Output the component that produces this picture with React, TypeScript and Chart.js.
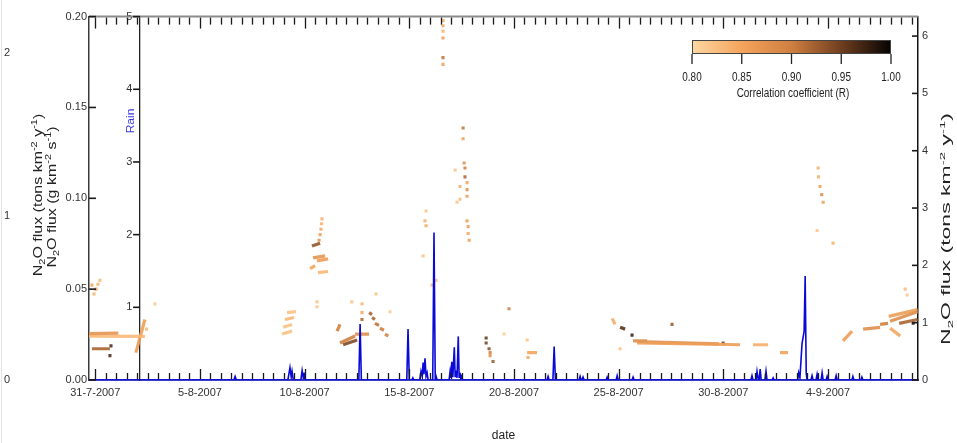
import React, { useEffect, useRef } from 'react';
import { Chart, registerables } from 'chart.js';
Chart.register(...registerables);

// ---------- axis definitions ----------
const DAY_MIN = -0.3;
const DAY_MAX = 39.3;
const RAIN_AXIS_DAY = 2.14;
const dateTickDays = [0, 5, 10, 15, 20, 25, 30, 35];
const dateTickLabels = ['31-7-2007', '5-8-2007', '10-8-2007', '15-8-2007', '20-8-2007', '25-8-2007', '30-8-2007', '4-9-2007'];
const fluxTicks = [0, 0.05, 0.1, 0.15, 0.2];
const rainTicks = [1, 2, 3, 4, 5];
const tonsRightTicks = [0, 1, 2, 3, 4, 5, 6];
const tonsLeftTicks = [0, 1, 2];
const corrTicks = [0.8, 0.85, 0.9, 0.95, 1.0];
const corrColors = ['#fed7a2', '#f4a45c', '#cf7f40', '#6f3e1f', '#050302'];

// ---------- rain (mm), explicit series ----------
const rainDay = [
  -0.3, 6.62, 6.68, 6.74,
  9.2, 9.3, 9.36, 9.4, 9.46,
  9.82, 9.88, 9.94, 9.97, 10.03,
  12.59, 12.65, 12.71,
  14.88, 14.94, 15.0,
  15.12, 15.17, 15.22,
  15.5, 15.56, 15.62, 15.66, 15.7, 15.75, 15.8, 15.85, 15.9,
  16.12, 16.18, 16.24, 16.28, 16.33,
  16.9, 16.95, 16.99, 17.03, 17.08, 17.15, 17.19, 17.23, 17.28, 17.34, 17.38, 17.42, 17.46, 17.5, 17.55,
  21.58, 21.63, 21.68,
  21.86, 21.92, 21.98,
  23.11, 23.16, 23.21, 23.25, 23.3, 23.35,
  24.4, 24.45, 24.5,
  24.88, 24.93, 24.98,
  25.64, 25.69, 25.74,
  31.32, 31.37, 31.42, 31.56, 31.61, 31.66, 31.71, 31.76, 31.81,
  31.99, 32.04, 32.09,
  32.33, 32.38, 32.43,
  33.55, 33.6, 33.66, 33.76, 33.86, 33.91, 33.96, 34.0,
  34.19, 34.24, 34.29, 34.43, 34.48, 34.53, 34.67, 34.72, 34.77, 34.91, 34.96, 35.01,
  35.34, 35.39, 35.44,
  36.14, 36.19, 36.24,
  36.57, 36.62, 36.67,
  39.3,
];
const rainMm = [
  0, 0, 0.05, 0,
  0, 0.17, 0.04, 0.12, 0,
  0, 0.13, 0.02, 0.1, 0,
  0, 0.77, 0,
  0, 0.7, 0,
  0, 0.03, 0,
  0, 0.12, 0.05, 0.24, 0.08, 0.3, 0.05, 0.1, 0,
  0, 2.03, 0, 0.05, 0,
  0, 0.12, 0.03, 0.25, 0.04, 0.45, 0.05, 0.13, 0.03, 0.6, 0.04, 0.1, 0.02, 0.05, 0,
  0, 0.05, 0,
  0, 0.46, 0,
  0, 0.05, 0, 0, 0.04, 0,
  0, 0.04, 0,
  0, 0.06, 0,
  0, 0.04, 0,
  0, 0.06, 0, 0, 0.12, 0.02, 0, 0.15, 0,
  0, 0.12, 0,
  0, 0.03, 0,
  0, 0.1, 0.03, 0.5, 0.67, 1.43, 0.1, 0,
  0, 0.06, 0, 0, 0.08, 0, 0, 0.1, 0, 0, 0.05, 0,
  0, 0.06, 0,
  0, 0.05, 0,
  0, 0.04, 0,
  0,
];

// ---------- flux streaks (day, g km-2 s-1, correlation R) ----------
const streakDay0 = [-0.3, -0.3, -0.16, 1.94, 8.92, 8.97, 9.06, 9.16, 10.35, 10.4, 10.59, 10.26, 10.64, 11.55, 11.69, 11.84, 12.41, 13.08, 13.22, 13.36, 13.6, 13.84, 20.63, 24.69, 25.07, 25.69, 25.88, 26.3, 31.42, 32.71, 35.72, 36.68, 37.49, 37.97, 37.9, 38.4, 37.97];
const streakFlux0 = [0.0255, 0.0242, 0.0172, 0.0151, 0.0253, 0.029, 0.0333, 0.0371, 0.0737, 0.0672, 0.0656, 0.0613, 0.0591, 0.0269, 0.0204, 0.0194, 0.0253, 0.0371, 0.0344, 0.0312, 0.0285, 0.0253, 0.0151, 0.0339, 0.029, 0.0215, 0.0204, 0.021, 0.0194, 0.0151, 0.0215, 0.028, 0.0306, 0.0323, 0.035, 0.0312, 0.0285];
const streakDay1 = [1.1, 2.37, 0.7, 2.37, 9.4, 9.4, 9.49, 9.59, 10.74, 10.98, 11.12, 10.5, 11.12, 11.69, 12.41, 12.51, 13.08, 13.22, 13.36, 13.55, 13.79, 14.0, 21.1, 24.83, 25.31, 26.36, 30.8, 29.8, 32.14, 33.09, 36.15, 37.49, 37.87, 39.28, 39.28, 39.28, 38.45];
const streakFlux1 = [0.0258, 0.024, 0.0172, 0.0333, 0.0269, 0.0306, 0.0344, 0.0376, 0.0753, 0.0683, 0.0667, 0.0629, 0.0597, 0.0306, 0.0242, 0.022, 0.0253, 0.036, 0.0333, 0.0301, 0.0274, 0.0242, 0.0151, 0.0306, 0.028, 0.0215, 0.0194, 0.0199, 0.0194, 0.0151, 0.0269, 0.029, 0.0312, 0.0376, 0.0387, 0.0333, 0.0242];
const streakR = [0.87, 0.83, 0.92, 0.86, 0.82, 0.82, 0.83, 0.82, 0.93, 0.87, 0.86, 0.85, 0.83, 0.9, 0.9, 0.94, 0.88, 0.92, 0.92, 0.91, 0.9, 0.89, 0.85, 0.84, 0.96, 0.88, 0.86, 0.88, 0.84, 0.85, 0.86, 0.88, 0.9, 0.88, 0.86, 0.92, 0.85];

// ---------- isolated flux points ----------
const dotDay = [-0.16, 0.03, 0.13, -0.06, 0.22, 0.75, 0.7, 2.85, 2.45,
  10.83, 10.81, 10.78, 10.74, 10.69, 10.59, 10.59,
  12.74, 12.74, 12.74, 13.41, 14.08, 12.25,
  16.61, 16.61, 16.61, 16.61, 16.61, 16.61, 17.57, 17.57,
  17.62, 17.66, 17.19, 17.66, 17.76, 17.42, 17.76, 17.76, 17.42, 17.28, 15.8, 15.75, 15.8, 17.76, 17.81, 17.81, 17.86, 15.66, 16.09, 16.28,
  18.67, 18.67, 18.81, 18.86, 18.86, 19.0, 19.76, 19.53, 20.63, 20.67,
  25.64, 29.99, 27.55, 25.07,
  34.53, 34.55, 34.62, 34.7, 34.77, 34.48, 35.24, 38.69, 38.78, 39.07];
const dotFlux = [0.0522, 0.05, 0.0527, 0.0473, 0.0548, 0.0188, 0.0134, 0.0419, 0.028,
  0.0887, 0.086, 0.083, 0.08, 0.0769, 0.043, 0.0403,
  0.0419, 0.0371, 0.0333, 0.0473, 0.0376, 0.043,
  0.1978, 0.195, 0.1919, 0.1882, 0.1774, 0.1737, 0.1387, 0.1328,
  0.1194, 0.1167, 0.1156, 0.1118, 0.1086, 0.1065, 0.1048, 0.1011, 0.0995, 0.0978, 0.093, 0.0876, 0.0849, 0.0876, 0.0844, 0.0806, 0.0769, 0.0683, 0.0522, 0.0548,
  0.0231, 0.0204, 0.0172, 0.0151, 0.0134, 0.0102, 0.0392, 0.0253, 0.022, 0.0124,
  0.0247, 0.0204, 0.0306, 0.0172,
  0.1167, 0.1118, 0.1065, 0.102, 0.0978, 0.0823, 0.0753, 0.05, 0.0468, 0.0312];
const dotR = [0.85, 0.86, 0.84, 0.84, 0.83, 0.97, 0.97, 0.81, 0.83,
  0.84, 0.84, 0.85, 0.86, 0.88, 0.82, 0.82,
  0.83, 0.85, 0.92, 0.82, 0.81, 0.82,
  0.84, 0.85, 0.84, 0.86, 0.91, 0.86, 0.91, 0.86,
  0.88, 0.9, 0.82, 0.92, 0.85, 0.84, 0.88, 0.86, 0.83, 0.82, 0.82, 0.84, 0.85, 0.86, 0.86, 0.85, 0.86, 0.82, 0.83, 0.82,
  0.96, 0.95, 0.94, 0.9, 0.88, 0.93, 0.9, 0.81, 0.82, 0.85,
  0.98, 0.95, 0.93, 0.82,
  0.84, 0.84, 0.86, 0.88, 0.86, 0.82, 0.84, 0.83, 0.82, 0.99];

// ---------- helpers ----------
const SANS = "'Liberation Sans',Arial,sans-serif";

function hexRgb(h: string) {
  const n = parseInt(h.slice(1), 16);
  return [(n >> 16) & 255, (n >> 8) & 255, n & 255];
}
function corrColor(R: number, alpha = 0.9) {
  const t = Math.max(0, Math.min(1, (R - corrTicks[0]) / (corrTicks[corrTicks.length - 1] - corrTicks[0])));
  const seg = t * (corrColors.length - 1);
  const i = Math.min(corrColors.length - 2, Math.floor(seg));
  const f = seg - i;
  const a = hexRgb(corrColors[i]);
  const b = hexRgb(corrColors[i + 1]);
  const c = a.map((v, k) => Math.round(v + (b[k] - v) * f));
  return `rgba(${c[0]},${c[1]},${c[2]},${alpha})`;
}

type Part = { t: string; sub?: boolean; sup?: boolean };
function drawRich(ctx: CanvasRenderingContext2D, parts: Part[], cx: number, cy: number, size: number, color: string, rotate: boolean, squeeze: number, family = SANS) {
  ctx.save();
  ctx.translate(cx, cy);
  if (rotate) ctx.rotate(-Math.PI / 2);
  if (rotate) ctx.scale(1, squeeze); else ctx.scale(squeeze, 1);
  const small = Math.round(size * 0.66);
  let total = 0;
  const widths: number[] = [];
  parts.forEach((p) => {
    ctx.font = `${p.sub || p.sup ? small : size}px ${family}`;
    const w = ctx.measureText(p.t).width;
    widths.push(w);
    total += w;
  });
  let x = -total / 2;
  ctx.textBaseline = 'middle';
  ctx.textAlign = 'left';
  ctx.fillStyle = color;
  parts.forEach((p, i) => {
    ctx.font = `${p.sub || p.sup ? small : size}px ${family}`;
    const dy = p.sub ? size * 0.3 : p.sup ? -size * 0.38 : 0;
    ctx.fillText(p.t, x, dy);
    x += widths[i];
  });
  ctx.restore();
}

const titleTons: Part[] = [{ t: 'N' }, { t: '2', sub: true }, { t: 'O flux (tons km' }, { t: '-2', sup: true }, { t: ' y' }, { t: '-1', sup: true }, { t: ')' }];
const titleG: Part[] = [{ t: 'N' }, { t: '2', sub: true }, { t: 'O flux (g km' }, { t: '-2', sup: true }, { t: ' s' }, { t: '-1', sup: true }, { t: ')' }];

const framePlugin = {
  id: 'framePlugin',
  afterDraw(chart: any) {
    const { ctx, chartArea: ca, scales } = chart;
    const x = scales.x;
    const yF = scales.yFlux;
    const yR = scales.yRight;
    const yRain = scales.yRain;
    ctx.save();
    const line = (x1: number, y1: number, x2: number, y2: number) => {
      ctx.beginPath();
      ctx.moveTo(x1, y1);
      ctx.lineTo(x2, y2);
      ctx.stroke();
    };
    // faint outer line at far left
    ctx.strokeStyle = '#e4e4e4';
    ctx.lineWidth = 1;
    line(1.5, 0, 1.5, 443);
    // top border
    ctx.strokeStyle = '#8c8c8c';
    ctx.lineWidth = 2;
    line(ca.left, ca.top, ca.right, ca.top);
    // time ticks (inward, top & bottom)
    ctx.strokeStyle = '#1a1a1a';
    ctx.lineWidth = 1.3;
    for (let k = Math.ceil(DAY_MIN * 2); k <= Math.floor(DAY_MAX * 2); k++) {
      const d = k / 2;
      const px = Math.round(x.getPixelForValue(d)) + 0.5;
      const major = d % 5 === 0;
      line(px, ca.bottom - 1, px, ca.bottom - (major ? 11 : 7));
      line(px, ca.top + 1, px, ca.top + (major ? 12 : 8));
    }
    // flux ticks (inward)
    ctx.lineWidth = 1.6;
    fluxTicks.forEach((v) => {
      const py = yF.getPixelForValue(v);
      line(ca.left, py, ca.left + 7, py);
    });
    // right axis ticks (inward)
    tonsRightTicks.forEach((v) => {
      const py = yR.getPixelForValue(v);
      line(ca.right - 6, py, ca.right, py);
    });
    // rain axis ticks (outward, left)
    const rx = x.getPixelForValue(RAIN_AXIS_DAY);
    rainTicks.forEach((v) => {
      const py = yRain.getPixelForValue(v);
      line(rx - 7, py, rx, py);
    });

    // colorbar
    const cbx0 = 692, cbx1 = 891, cby0 = 40, cby1 = 54;
    const g = ctx.createLinearGradient(cbx0, 0, cbx1, 0);
    corrColors.forEach((c, i) => g.addColorStop(i / (corrColors.length - 1), c));
    ctx.fillStyle = g;
    ctx.fillRect(cbx0, cby0, cbx1 - cbx0, cby1 - cby0);
    ctx.strokeStyle = '#444';
    ctx.lineWidth = 1;
    ctx.strokeRect(cbx0 + 0.5, cby0 + 0.5, cbx1 - cbx0 - 1, cby1 - cby0 - 1);
    ctx.lineWidth = 1.3;
    ctx.strokeStyle = '#222';
    corrTicks.forEach((v, i) => {
      const px = cbx0 + ((cbx1 - cbx0) * i) / (corrTicks.length - 1);
      line(px, cby1, px, cby1 + 10);
      drawRich(ctx, [{ t: v.toFixed(2) }], px, 77.5, 12, '#222', false, 0.83);
    });
    drawRich(ctx, [{ t: 'Correlation coefficient (R)' }], 793, 94, 12, '#222', false, 0.83);

    // axis titles
    drawRich(ctx, titleTons, 39, 195, 16, '#222', true, 0.75);
    drawRich(ctx, titleG, 53, 197, 16, '#222', true, 0.75);
    drawRich(ctx, titleTons, 947, 229, 23, '#222', true, 0.52);
    drawRich(ctx, [{ t: 'Rain' }], 131, 121, 12, '#3535e0', true, 0.95);
    ctx.restore();
  },
};

export default function App() {
  const ref = useRef<HTMLCanvasElement>(null);
  useEffect(() => {
    if (!ref.current) return;
    const rainData = rainDay.map((d, i) => ({ x: d, y: rainMm[i] }));
    const streakSets = streakDay0.map((d0, i) => ({
      type: 'scatter' as const,
      data: [{ x: d0, y: streakFlux0[i] }, { x: streakDay1[i], y: streakFlux1[i] }],
      yAxisID: 'yFlux',
      showLine: true,
      borderColor: corrColor(streakR[i], 0.9),
      borderWidth: 3.2,
      pointRadius: 0,
      order: 2,
    }));
    const dots = {
      type: 'scatter' as const,
      data: dotDay.map((d, i) => ({ x: d, y: dotFlux[i] })),
      yAxisID: 'yFlux',
      showLine: false,
      pointStyle: 'rect',
      pointRadius: 2.2,
      pointBorderWidth: 0,
      pointBackgroundColor: dotR.map((r) => corrColor(r, 0.85)),
      order: 2,
    };
    const rain = {
      type: 'scatter' as const,
      data: rainData,
      yAxisID: 'yRain',
      showLine: true,
      borderColor: '#0a0ad8',
      borderWidth: 1.6,
      pointRadius: 0,
      order: 0,
    };
    const tickFont = { family: SANS, size: 11 };
    const chart = new Chart(ref.current, {
      type: 'scatter',
      data: { datasets: [...streakSets, dots, rain] as any },
      options: {
        animation: false,
        responsive: true,
        maintainAspectRatio: false,
        layout: { padding: { top: 11, left: 0, right: 0, bottom: 0 } },
        plugins: { legend: { display: false }, tooltip: { enabled: false } },
        scales: {
          x: {
            type: 'linear',
            position: 'bottom',
            min: DAY_MIN,
            max: DAY_MAX,
            afterBuildTicks: (s: any) => { s.ticks = dateTickDays.map((v) => ({ value: v })); },
            afterFit: (s: any) => { s.height = 63; },
            ticks: {
              autoSkip: false,
              maxRotation: 0,
              padding: 6,
              color: '#333',
              font: tickFont,
              callback: (v: any) => { const i = dateTickDays.indexOf(Number(v)); return i >= 0 ? dateTickLabels[i] : ''; },
            },
            grid: { display: true, drawOnChartArea: false, drawTicks: false },
            border: { display: true, color: '#3b3bc4', width: 2 },
            title: { display: true, text: 'date', color: '#222', font: { family: SANS, size: 12, lineHeight: 1 }, padding: { top: 0, bottom: 1 } },
          },
          yFlux: {
            type: 'linear',
            position: 'left',
            weight: 0,
            min: 0,
            max: 0.2,
            afterBuildTicks: (s: any) => { s.ticks = fluxTicks.map((v) => ({ value: v })); },
            afterFit: (s: any) => { s.width = 69; },
            ticks: { padding: 2, color: '#333', font: tickFont, callback: (v: any) => Number(v).toFixed(2) },
            grid: { display: true, drawOnChartArea: false, drawTicks: false },
            border: { display: true, color: '#3a3a3a', width: 1.5 },
          },
          yTonsL: {
            type: 'linear',
            position: 'left',
            weight: 1,
            min: 0,
            max: 2.22,
            afterBuildTicks: (s: any) => { s.ticks = tonsLeftTicks.map((v) => ({ value: v })); },
            afterFit: (s: any) => { s.width = 20; },
            ticks: { padding: 10, color: '#333', font: tickFont, callback: (v: any) => String(v) },
            grid: { display: true, drawOnChartArea: false, drawTicks: false },
            border: { display: false },
          },
          yRain: {
            type: 'linear',
            position: { x: RAIN_AXIS_DAY } as any,
            min: 0,
            max: 5,
            afterBuildTicks: (s: any) => { s.ticks = rainTicks.map((v) => ({ value: v })); },
            ticks: { color: '#333', font: tickFont, callback: (v: any) => `${v}\u2002\u2009` },
            grid: { display: true, drawOnChartArea: false, drawTicks: false },
            border: { display: true, color: '#222', width: 1.3 },
          },
          yRight: {
            type: 'linear',
            position: 'right',
            min: 0,
            max: 6.34,
            afterBuildTicks: (s: any) => { s.ticks = tonsRightTicks.map((v) => ({ value: v })); },
            afterFit: (s: any) => { s.width = 39; },
            ticks: { padding: 4, color: '#333', font: tickFont, callback: (v: any) => String(v) },
            grid: { display: true, drawOnChartArea: false, drawTicks: false },
            border: { display: true, color: '#111', width: 1.5 },
          },
        } as any,
      },
      plugins: [framePlugin],
    });
    return () => chart.destroy();
  }, []);
  return (
    <div style={{ position: 'absolute', left: 0, top: 0, width: 957, height: 443, background: '#fff' }}>
      <canvas ref={ref} />
    </div>
  );
}
